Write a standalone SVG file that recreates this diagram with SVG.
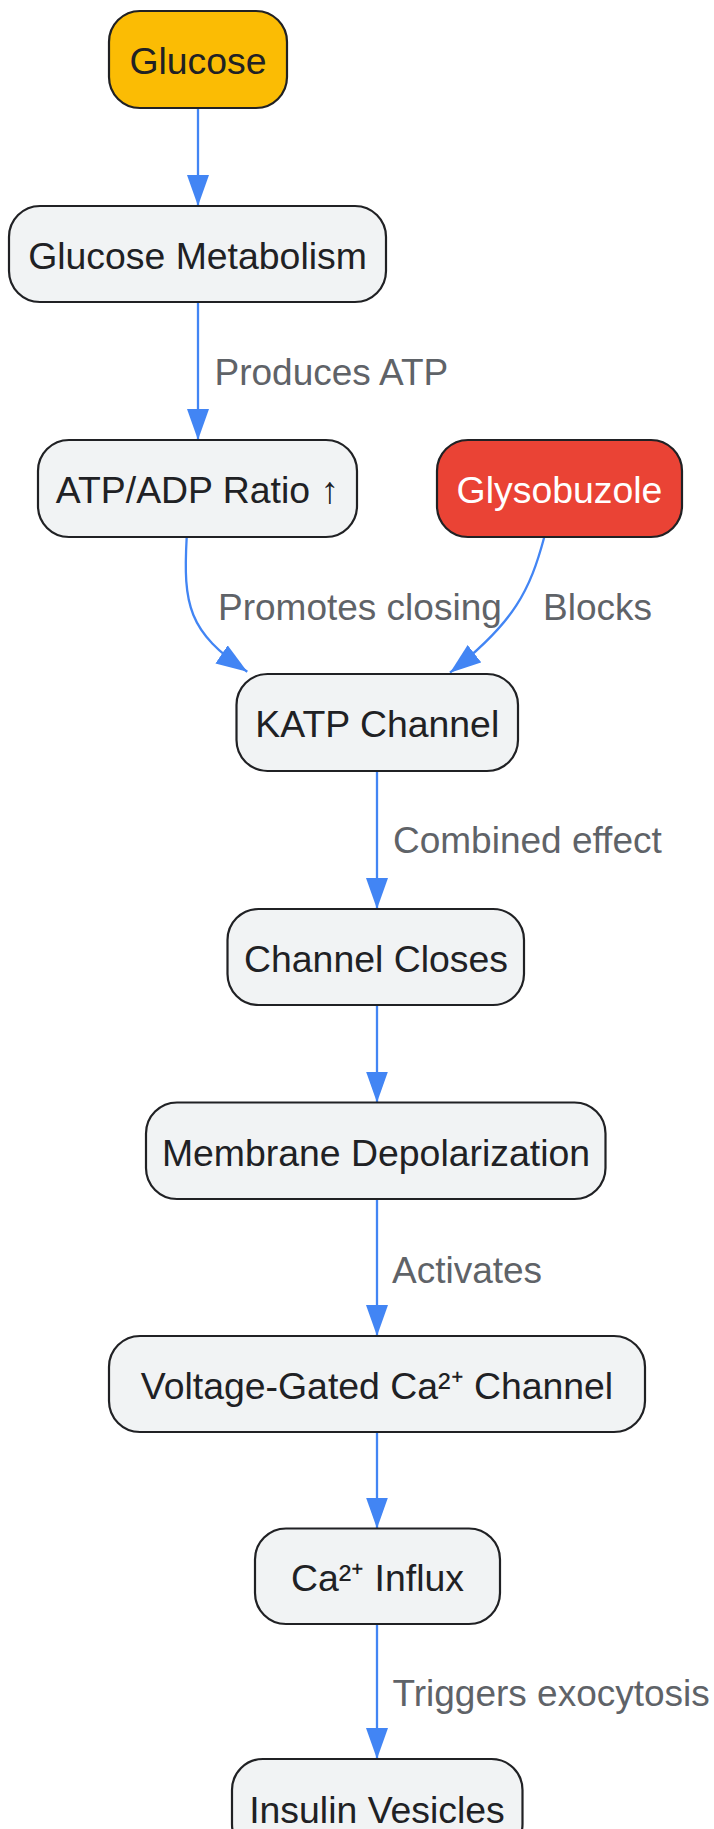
<svg xmlns="http://www.w3.org/2000/svg" width="714" height="1829" viewBox="0 0 714 1829">
<defs>
<style>
.node rect{fill:#f1f3f4;stroke:#202124;stroke-width:2.2}
.node text{font-family:"Liberation Sans",Arial,sans-serif;font-size:37.4px;fill:#202124;text-anchor:middle}
.edge{fill:none;stroke:#4285f4;stroke-width:2.3}
.lbl{font-family:"Liberation Sans",Arial,sans-serif;font-size:37px;fill:#5f6368}
</style>
<marker id="arr" viewBox="0 0 31 22" refX="31" refY="11" markerWidth="31" markerHeight="22" markerUnits="userSpaceOnUse" orient="auto">
<path d="M0,0 L31,11 L0,22 z" fill="#4285f4"/>
</marker>
</defs>
<rect width="714" height="1829" fill="#ffffff"/>
<g id="connectors">
<path class="edge" d="M198,108 L198,206" marker-end="url(#arr)"/>
<path class="edge" d="M198,302 L198,440" marker-end="url(#arr)"/>
<path class="edge" d="M186.7,537 C183,605 188,632 247.3,671.7" marker-end="url(#arr)"/>
<path class="edge" d="M544.3,537 C530,590 515,622 450,672.7" marker-end="url(#arr)"/>
<path class="edge" d="M377,771 L377,909" marker-end="url(#arr)"/>
<path class="edge" d="M377,1005 L377,1102.5" marker-end="url(#arr)"/>
<path class="edge" d="M377,1199 L377,1336" marker-end="url(#arr)"/>
<path class="edge" d="M377,1432 L377,1528.5" marker-end="url(#arr)"/>
<path class="edge" d="M377,1624 L377,1759" marker-end="url(#arr)"/>
<text class="lbl" x="214.5" y="385">Produces ATP</text>
<text class="lbl" x="218" y="620">Promotes closing</text>
<text class="lbl" x="543" y="620">Blocks</text>
<text class="lbl" x="393" y="853">Combined effect</text>
<text class="lbl" x="392" y="1282.5">Activates</text>
<text class="lbl" x="392.5" y="1706">Triggers exocytosis</text>
</g>
<g id="glucose" class="node"><rect x="109" y="11" width="178" height="97" rx="31" ry="31" style="fill:#fbbc04"/><text x="198" y="74">Glucose</text></g>
<g id="metabolism" class="node"><rect x="9" y="206" width="377" height="96" rx="31" ry="31"/><text x="197.5" y="269">Glucose Metabolism</text></g>
<g id="atp" class="node"><rect x="38" y="440" width="319" height="97" rx="31" ry="31"/><text x="197.5" y="503">ATP/ADP Ratio ↑</text></g>
<g id="glysobuzole" class="node"><rect x="437" y="440" width="245" height="97" rx="31" ry="31" style="fill:#ea4335"/><text x="559.5" y="503" style="fill:#ffffff">Glysobuzole</text></g>
<g id="katp" class="node"><rect x="236.5" y="674" width="281.5" height="97" rx="31" ry="31"/><text x="377.3" y="737">KATP Channel</text></g>
<g id="closes" class="node"><rect x="227.5" y="909" width="296.5" height="96" rx="31" ry="31"/><text x="376" y="971.5">Channel Closes</text></g>
<g id="depol" class="node"><rect x="146" y="1102.5" width="459.5" height="96.5" rx="31" ry="31"/><text x="376" y="1166">Membrane Depolarization</text></g>
<g id="vgcc" class="node"><rect x="109" y="1336" width="536" height="96" rx="31" ry="31"/><text x="377" y="1398.5">Voltage-Gated Ca²⁺ Channel</text></g>
<g id="influx" class="node"><rect x="255" y="1528.5" width="245" height="95.5" rx="31" ry="31"/><text x="377.5" y="1590.5">Ca²⁺ Influx</text></g>
<g id="vesicles" class="node"><rect x="232" y="1759" width="290.5" height="96" rx="31" ry="31"/><text x="377" y="1822.5">Insulin Vesicles</text></g>
</svg>
